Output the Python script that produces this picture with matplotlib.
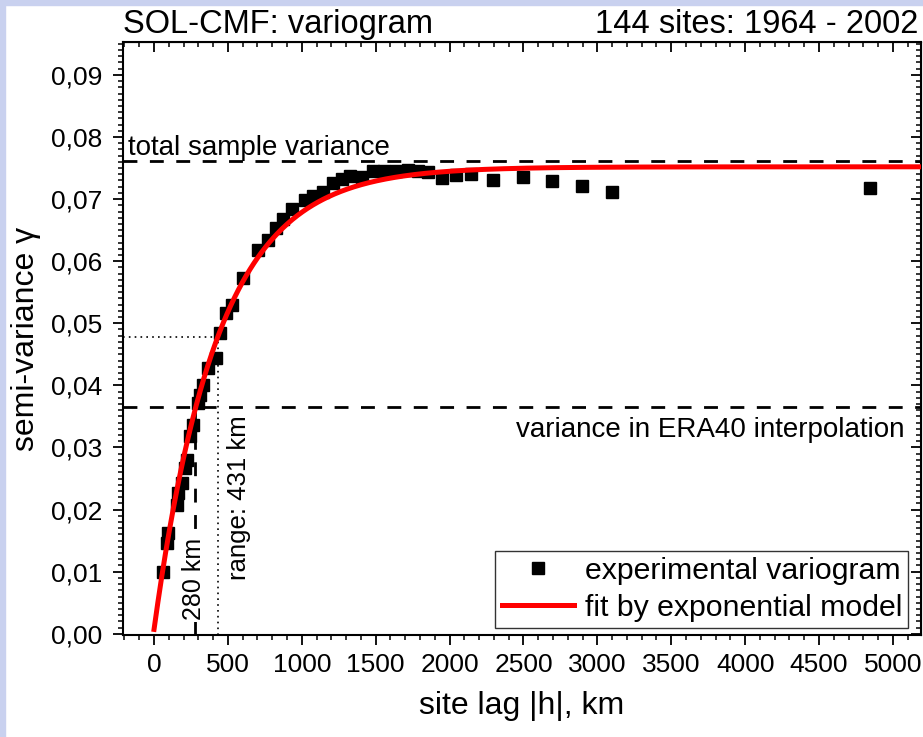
import matplotlib
matplotlib.use("Agg")
import matplotlib.pyplot as plt
from matplotlib.patches import Rectangle
from matplotlib.ticker import MultipleLocator, FuncFormatter
import numpy as np

plt.rcParams['font.family'] = ['Liberation Sans', 'DejaVu Sans']

# ---- data ----
lag_km = [63, 86, 97, 154, 164, 187, 210, 221, 244, 266, 300, 311, 334, 367,
          419, 447, 487, 526, 600, 706, 773, 825, 875, 932, 1022, 1078, 1145,
          1211, 1270, 1327, 1408, 1482, 1556, 1637, 1718, 1786, 1854, 1949,
          2043, 2145, 2294, 2497, 2695, 2895, 3097, 4844]
semivar = [0.0100, 0.0146, 0.0162, 0.0208, 0.0227, 0.0243, 0.0267, 0.0280,
           0.0318, 0.0337, 0.0371, 0.0385, 0.0400, 0.0428, 0.0444, 0.0484,
           0.0516, 0.0530, 0.0573, 0.0618, 0.0634, 0.0653, 0.0668, 0.0684,
           0.0699, 0.0705, 0.0711, 0.0726, 0.0733, 0.0738, 0.0736, 0.0745,
           0.0746, 0.0746, 0.0747, 0.0745, 0.0743, 0.0734, 0.0739, 0.0741,
           0.0730, 0.0736, 0.0729, 0.0721, 0.0711, 0.0718]

# exponential model fit parameters
nugget = 0.0007
sill = 0.0752
range_km = 431
total_var = 0.0762
era40_var = 0.0365
era40_lag = 280

x_ticks = [0, 500, 1000, 1500, 2000, 2500, 3000, 3500, 4000, 4500, 5000]
y_ticks = [0.00, 0.01, 0.02, 0.03, 0.04, 0.05, 0.06, 0.07, 0.08, 0.09]

W, H = 923, 737
fig = plt.figure(figsize=(W / 100, H / 100), dpi=100)
fig.patch.set_facecolor('white')
lav = '#c9d1ef'
fig.patches.append(Rectangle((0, 0), 5 / W, 1, transform=fig.transFigure, color=lav, zorder=0))
fig.patches.append(Rectangle((0, 1 - 5 / H), 1, 5 / H, transform=fig.transFigure, color=lav, zorder=0))

L, R, T, B = 123, 921, 42, 635
ax = fig.add_axes([L / W, 1 - B / H, (R - L) / W, (B - T) / H])
ax.set_xlim(-210, 5190)
ax.set_ylim(-0.0002, 0.0953)

# model curve
h = np.linspace(0, 5190, 600)
gam = nugget + (sill - nugget) * (1 - np.exp(-h / range_km))
gam_range = nugget + (sill - nugget) * (1 - np.exp(-1))

ax.axhline(total_var, color='black', lw=2, dashes=(5, 4.5), zorder=2)
ax.axhline(era40_var, color='black', lw=2, dashes=(5, 4.5), zorder=2)
ax.plot([era40_lag, era40_lag], [0, era40_var], color='black', lw=2, dashes=(5, 4.5), zorder=2)
ax.plot([range_km, range_km], [-0.0002, gam_range], color='black', lw=1.2, dashes=(1, 2.5), zorder=2)
ax.plot([-210, range_km], [gam_range, gam_range], color='black', lw=1.2, dashes=(1, 2.5), zorder=2)

ax.plot(lag_km, semivar, linestyle='none', marker='s', markersize=9, color='black',
        label='experimental variogram', zorder=3)
ax.plot(h, gam, color='#ff0000', lw=3.6, label='fit by exponential model', zorder=4)

ax.text(-176, 0.0771, 'total sample variance', fontsize=20, ha='left', va='baseline')
ax.text(5081, 0.0317, 'variance in ERA40 interpolation', fontsize=20, ha='right', va='baseline')
ax.text(271, 0.0088, '280 km', rotation=90, fontsize=18, ha='center', va='center',
        bbox=dict(facecolor='white', edgecolor='none', pad=1), zorder=3)
ax.text(577, 0.0220, 'range: 431 km', rotation=90, fontsize=18.5, ha='center', va='center')

ax.set_xticks(x_ticks)
ax.xaxis.set_minor_locator(MultipleLocator(100))
ax.set_yticks(y_ticks)
ax.yaxis.set_minor_locator(MultipleLocator(0.001))
ax.yaxis.set_major_formatter(FuncFormatter(lambda v, p: f'{v:.2f}'.replace('.', ',')))
ax.tick_params(which='major', direction='out', length=7, width=1.3, labelsize=19)
ax.tick_params(axis='y', which='major', pad=8)
ax.tick_params(axis='x', which='major', pad=6)
ax.tick_params(which='minor', direction='out', length=3.5, width=1.1)
for s in ax.spines.values():
    s.set_linewidth(1.5)

sx = ax.secondary_xaxis('top')
sx.xaxis.set_major_locator(MultipleLocator(500))
sx.xaxis.set_minor_locator(MultipleLocator(100))
sx.tick_params(which='major', direction='in', length=7, width=1.3, labeltop=False)
sx.tick_params(which='minor', direction='in', length=3.5, width=1.1)
sy = ax.secondary_yaxis('right')
sy.yaxis.set_major_locator(MultipleLocator(0.01))
sy.yaxis.set_minor_locator(MultipleLocator(0.001))
sy.tick_params(which='major', direction='in', length=7, width=1.3, labelright=False)
sy.tick_params(which='minor', direction='in', length=3.5, width=1.1)

ax.set_xlabel('site lag |h|, km', fontsize=23, labelpad=10)
ax.set_ylabel('semi-variance γ', fontsize=23, labelpad=7)

leg = ax.legend(loc='lower right', bbox_to_anchor=(0.984, 0.012), borderaxespad=0,
                fontsize=21.8, frameon=True, fancybox=False, edgecolor='black',
                handlelength=2.4, handletextpad=0.35, labelspacing=0.3,
                borderpad=0.2, markerscale=1.0)
leg.get_frame().set_linewidth(1.0)

fig.text(L / W, 1 - 33 / H, 'SOL-CMF: variogram', fontsize=23.5, ha='left', va='baseline')
fig.text(918 / W, 1 - 33 / H, '144 sites: 1964 - 2002', fontsize=23.5, ha='right', va='baseline')

fig.savefig('out.png', dpi=100)
